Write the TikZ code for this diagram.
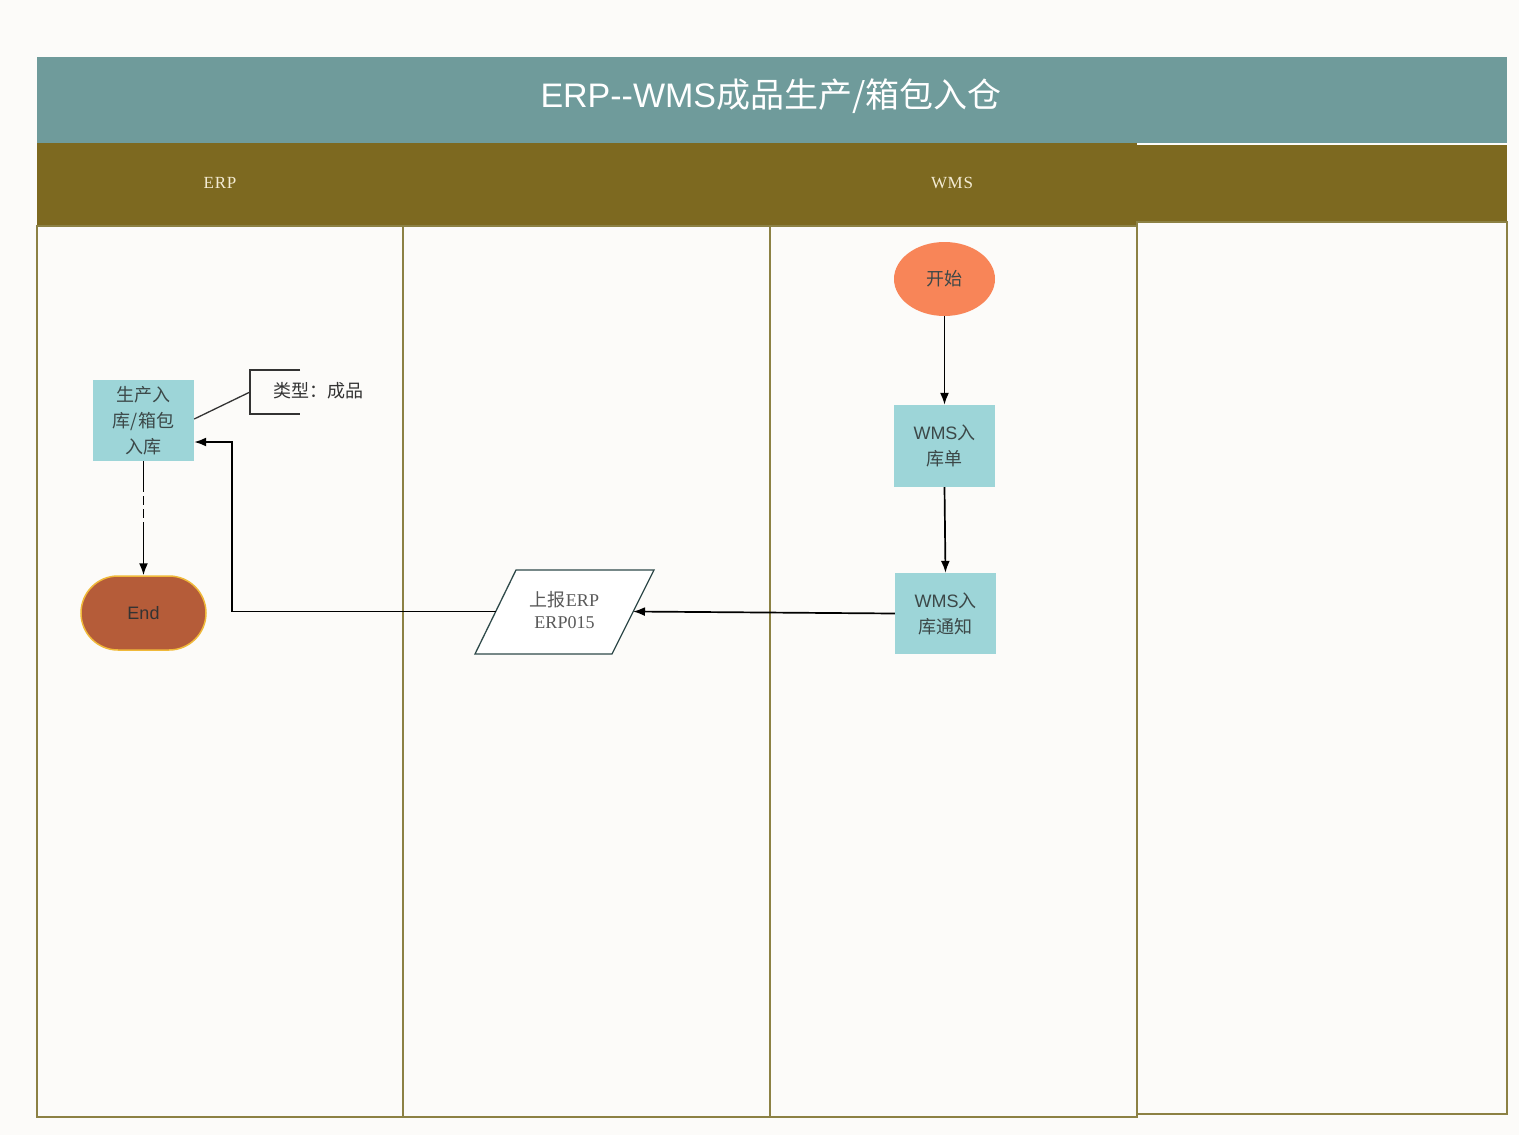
\documentclass[tikz,border=0pt]{standalone}
\usepackage{fontspec}
\setmainfont{Liberation Serif}
\setsansfont{Liberation Sans}
\newfontfamily\cjk{Noto Sans CJK SC}
\usetikzlibrary{arrows.meta,shapes.geometric}
\definecolor{bgc}{HTML}{FCFBF9}
\definecolor{titlec}{HTML}{6F9B9B}
\definecolor{hdrc}{HTML}{7D6920}
\definecolor{lanec}{HTML}{8C8144}
\definecolor{boxc}{HTML}{9DD5D8}
\definecolor{startc}{HTML}{F88558}
\definecolor{endc}{HTML}{B55C39}
\definecolor{endb}{HTML}{F0B93A}
\definecolor{txtc}{HTML}{3C4848}
\definecolor{labc}{HTML}{F4ECD4}
\definecolor{parc}{HTML}{2F4A4A}
\begin{document}
\begin{tikzpicture}[x=1pt,y=-1pt,
  lane/.style={draw=lanec,line width=1.8pt},
  procbox/.style={rectangle,fill=boxc,draw=none,minimum width=101pt,minimum height=81pt,inner sep=0pt,align=center,text=txtc,font=\fontsize{18}{26}\selectfont},
  arr/.style={draw=black,line width=1.7pt,-{Latex[length=12pt,width=9pt]}},
  ann/.style={draw=black!80,line width=1.3pt},
  lanelab/.style={text=labc,font=\fontsize{17}{18}\selectfont\addfontfeature{LetterSpace=4}},
]
\useasboundingbox (0,0) rectangle (1519,1135);
\fill[bgc] (0,0) rectangle (1519,1135);
% bands
\fill[titlec] (37,57) rectangle (1507,143);
\fill[hdrc] (37,143) rectangle (1137,226);
\fill[hdrc] (1137,144.5) rectangle (1507,222);
% lanes
\draw[lane] (37,226) rectangle (403,1117);
\draw[lane] (403,226) rectangle (770,1117);
\draw[lane] (770,226) rectangle (1137,1117);
\draw[lane] (1137,222) rectangle (1507,1114);
% titles
\node[text=white,font=\fontsize{34}{40}\selectfont] (title) at (771,96) {\sffamily ERP-{}-WMS{\cjk 成品生产/箱包入仓}};
\node[lanelab] (erp) at (220,183) {ERP};
\node[lanelab] (wms) at (952,183) {WMS};
% nodes
\node[ellipse,fill=startc,minimum width=101pt,minimum height=74pt,inner sep=0pt,text=txtc,font=\fontsize{18}{26}\selectfont\cjk] (start) at (944.5,279) {开始};
\node[procbox,minimum height=82pt] (wmsA) at (944.5,446) {{\sffamily WMS}{\cjk 入}\\{\cjk 库单}};
\node[procbox] (wmsB) at (945.5,613.5) {{\sffamily WMS}{\cjk 入}\\{\cjk 库通知}};
\node[procbox,font=\fontsize{18}{26}\selectfont\cjk] (prod) at (143.5,420.5) {生产入\\库/箱包\\入库};
\node[rectangle,rounded corners=37pt,fill=endc,draw=endb,line width=1.5pt,minimum width=125pt,minimum height=74pt,inner sep=0pt,text=black!80,font=\fontsize{18}{22}\selectfont\sffamily] (endn) at (143.5,613) {End};
% parallelogram
\draw[draw=parc,line width=1.3pt,fill=white] (516,570) -- (654,570) -- (612,654) -- (475,654) -- cycle;
\node[inner sep=0pt,align=center,text=black!65,font=\fontsize{18}{22}\selectfont] (rep) at (564.5,610) {{\cjk 上报}ERP\\ERP015};
\coordinate (repE) at (633,611.5);
\coordinate (repW) at (496,611.5);
\coordinate (bend) at (232,442);
% connectors
\draw[arr] (start.south) -- (wmsA.north);
\draw[arr] (wmsA.south) -- (wmsB.north);
\draw[arr] (wmsB.west) -- (repE);
\draw[arr] (repW) -| (bend) -- (bend -| prod.east);
\draw[arr,dash pattern=on 31pt off 4pt on 9pt off 4pt on 9pt off 4pt on 80pt] (prod.south) -- (endn.north);
% annotation
\coordinate (brk) at (250,392);
\draw[ann] (300,370) -- (250,370) -- (250,414) -- (300,414);
\node[text=black!80,font=\fontsize{18}{22}\selectfont\cjk] (note) at (318,391) {类型：成品};
\draw[ann] ([yshift=1.5pt]prod.east) -- (brk);
\end{tikzpicture}
\end{document}
